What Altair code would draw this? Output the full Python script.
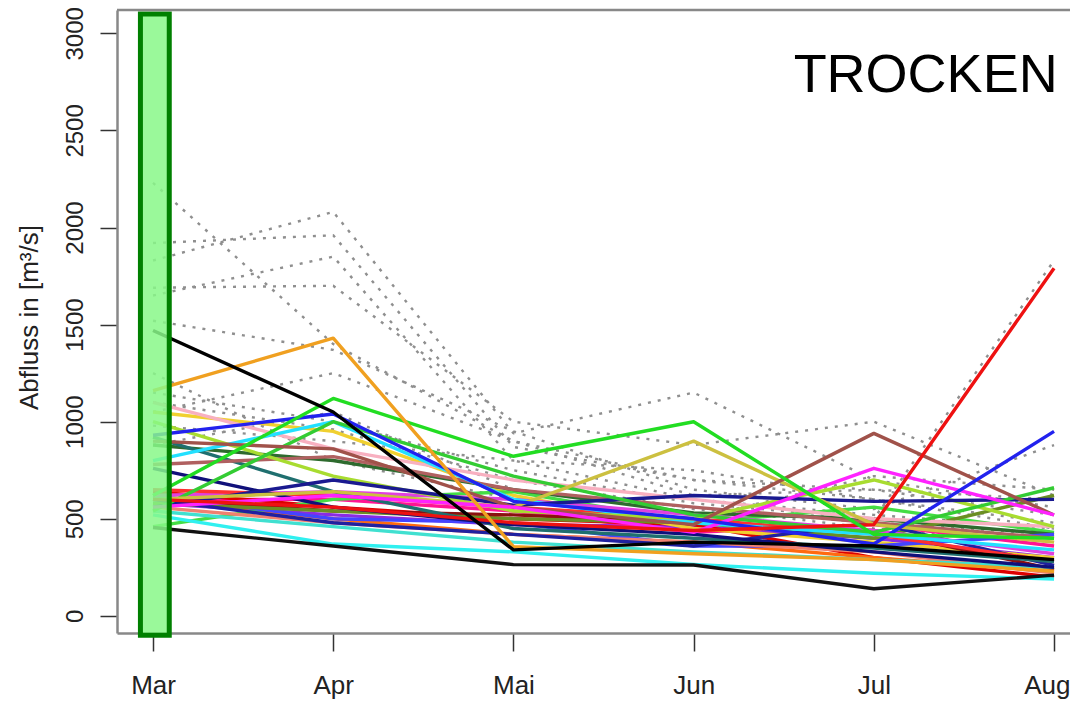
import altair as alt
import pandas as pd

# ---------------- data ----------------
monate = ["Mar", "Apr", "Mai", "Jun", "Jul", "Aug"]
monat_nr = [1, 2, 3, 4, 5, 6]
y_ticks = [0, 500, 1000, 1500, 2000, 2500, 3000]

# grey dotted series (Mar..Aug)
grau_01 = [2230, 1400, 900, 700, 600, 480]
grau_02 = [1830, 2080, 940, 1150, 700, 560]
grau_03 = [1920, 1960, 870, 700, 650, 520]
grau_04 = [1690, 1700, 1000, 880, 1000, 620]
grau_05 = [1520, 1370, 950, 650, 550, 880]
grau_06 = [1650, 1850, 800, 600, 520, 450]
grau_07 = [1150, 1000, 750, 580, 500, 1830]
grau_08 = [1050, 1250, 900, 620, 650, 600]
grau_09 = [980, 900, 800, 750, 600, 450]
grau_10 = [1100, 960, 700, 550, 480, 420]
grau_11 = [1250, 800, 600, 500, 720, 650]
grau_12 = [880, 1050, 650, 560, 450, 380]
grau_reihen = [grau_01, grau_02, grau_03, grau_04, grau_05, grau_06,
               grau_07, grau_08, grau_09, grau_10, grau_11, grau_12]

# coloured series (Mar..Aug)
linie_01 = [580, 520, 470, 460, 400, 300]
linie_02 = [600, 600, 540, 430, 470, 360]
linie_03 = [640, 560, 500, 470, 300, 200]
linie_04 = [600, 500, 420, 380, 300, 230]
linie_05 = [1050, 950, 620, 450, 380, 300]
linie_06 = [460, 600, 640, 480, 560, 430]
linie_07 = [880, 800, 650, 530, 500, 420]
linie_08 = [620, 500, 480, 360, 360, 420]
linie_09 = [560, 480, 420, 380, 330, 220]
linie_10 = [600, 540, 520, 480, 440, 240]
linie_11 = [540, 460, 380, 330, 290, 250]
linie_12 = [580, 540, 500, 480, 400, 620]
linie_13 = [600, 480, 420, 360, 480, 260]
linie_14 = [620, 640, 600, 520, 440, 320]
linie_15 = [650, 620, 560, 500, 420, 280]
linie_16 = [1100, 860, 700, 600, 500, 460]
linie_17 = [920, 640, 450, 400, 350, 280]
linie_18 = [760, 560, 470, 420, 330, 250]
linie_19 = [780, 820, 650, 560, 480, 400]
linie_20 = [800, 1000, 600, 480, 420, 340]
linie_21 = [520, 370, 330, 265, 220, 190]
linie_22 = [1000, 720, 540, 500, 700, 460]
linie_23 = [560, 700, 570, 620, 590, 600]
linie_24 = [540, 1000, 720, 520, 430, 660]
linie_25 = [600, 640, 560, 900, 470, 380]
linie_26 = [900, 860, 560, 470, 940, 520]
linie_27 = [560, 620, 560, 430, 760, 520]
linie_28 = [930, 1040, 590, 500, 370, 950]
linie_29 = [600, 560, 480, 440, 470, 1790]
linie_30 = [620, 1120, 822, 1000, 420, 400]
linie_31 = [1160, 1430, 357, 320, 290, 230]
linie_32 = [455, 360, 264, 262, 140, 210]
linie_33 = [1470, 1050, 340, 380, 360, 290]
linien = [linie_01, linie_02, linie_03, linie_04, linie_05, linie_06, linie_07,
          linie_08, linie_09, linie_10, linie_11, linie_12, linie_13, linie_14,
          linie_15, linie_16, linie_17, linie_18, linie_19, linie_20, linie_21,
          linie_22, linie_23, linie_24, linie_25, linie_26, linie_27, linie_28,
          linie_29, linie_30, linie_31, linie_32, linie_33]
farben = ["#8A2BE2", "#FF1493", "#DD0000", "#FF6A10", "#F0D030", "#44DD44",
          "#2E6B2E", "#4444FF", "#F08070", "#8B1010", "#40E0D0", "#6B8E23",
          "#2020A0", "#E040E0", "#FF3030", "#F8B0C0", "#1F6F6F", "#10107A",
          "#B06060", "#22E0FF", "#30F0F0", "#A8DC30", "#1A1A90", "#33CC33",
          "#CCC040", "#A0524A", "#FF22FF", "#2222EE", "#EE1111", "#22DD22",
          "#F0A020", "#111111", "#000000"]

markierung_x = [0.93, 1.09]
markierung_y = [-100, 3100]
etikett = "TROCKEN"
etikett_pos = [6.02, 2697]

# ---------------- tables ----------------
rows = []
for i, s in enumerate(grau_reihen):
    for m, v in zip(monat_nr, s):
        rows.append({"serie": f"g{i:02d}", "monat": m, "abfluss": v})
df_grau = pd.DataFrame(rows)

rows = []
namen = []
for i, s in enumerate(linien):
    name = f"c{i:02d}"
    namen.append(name)
    for m, v in zip(monat_nr, s):
        rows.append({"serie": name, "monat": m, "abfluss": v})
df_farbe = pd.DataFrame(rows)

df_rect = pd.DataFrame({"monat": [markierung_x[0]], "monat2": [markierung_x[1]],
                        "abfluss": [markierung_y[0]], "abfluss2": [markierung_y[1]]})

# ---------------- scales / axes ----------------
FONT = "Liberation Sans"
W, H = 953, 623
PX_PER_MONTH = 180.2
x_scale = alt.Scale(domain=[0.8, 0.8 + W / PX_PER_MONTH], nice=False, zero=False)
y_scale = alt.Scale(domain=[-88, 3120], nice=False, zero=False)
label_expr = "[" + ",".join(f"'{m}'" for m in monate) + "][datum.value - 1]"

x_axis = alt.Axis(values=monat_nr, labelExpr=label_expr, title=None, grid=False,
                  tickSize=18, tickColor="#333", tickWidth=1.5,
                  domainColor="#888", domainWidth=2.5,
                  labelFont=FONT, labelFontSize=26, labelColor="#222",
                  labelBaseline="alphabetic", labelPadding=42,
                  labelFlush=20, labelFlushOffset=16,
                  labelOverlap=False)
y_axis = alt.Axis(values=y_ticks, format="d", title="Abfluss in [m³/s]", grid=False,
                  tickSize=17, tickColor="#333", tickWidth=1.5,
                  domainColor="#888", domainWidth=2.5,
                  labelFont=FONT, labelFontSize=24, labelColor="#222",
                  labelAngle=270, labelAlign="center", labelBaseline="alphabetic",
                  labelPadding=18, labelFlush=False, labelOverlap=False,
                  titleFont=FONT, titleFontSize=26, titleFontWeight="normal",
                  titleColor="#222", titleAngle=270, titleAlign="center",
                  titleBaseline="alphabetic", titleX=-80, titleY=307)

X = alt.X("monat:Q", scale=x_scale, axis=x_axis)
Y = alt.Y("abfluss:Q", scale=y_scale, axis=y_axis)

grau = alt.Chart(df_grau).mark_line(
    color="#8f8f8f", strokeWidth=2.4, strokeDash=[3, 7], strokeJoin="round"
).encode(x=X, y=Y, detail="serie:N")

farbig = alt.Chart(df_farbe).mark_line(strokeWidth=3.4, strokeJoin="round").encode(
    x=X, y=Y,
    color=alt.Color("serie:N", scale=alt.Scale(domain=namen, range=farben), legend=None),
    order=alt.Order("monat:Q"),
)

rect = alt.Chart(df_rect).mark_rect(
    fill="#88f888", fillOpacity=0.85, stroke="#008000", strokeWidth=5, strokeOpacity=1
).encode(x=X, x2="monat2:Q", y=Y, y2="abfluss2:Q")

text = alt.Chart(pd.DataFrame({"t": [etikett]})).mark_text(
    font=FONT, fontSize=54, color="#000", align="right", baseline="alphabetic"
).encode(x=alt.datum(etikett_pos[0]), y=alt.datum(etikett_pos[1]), text="t:N")

oben = alt.Chart(pd.DataFrame({"t": [0]})).mark_rule(color="#888", strokeWidth=2.5).encode(
    y=alt.datum(y_scale.domain[1]), x=alt.value(0), x2=alt.value(W)
)

chart = alt.layer(grau, farbig, rect, text, oben).properties(
    width=W, height=H,
    autosize=alt.AutoSizeParams(type="none"),
    padding={"left": 109, "top": 2, "right": 0, "bottom": 66},
).configure_view(stroke=None)

chart.save("out.html", embed_options={"renderer": "svg", "actions": False})
